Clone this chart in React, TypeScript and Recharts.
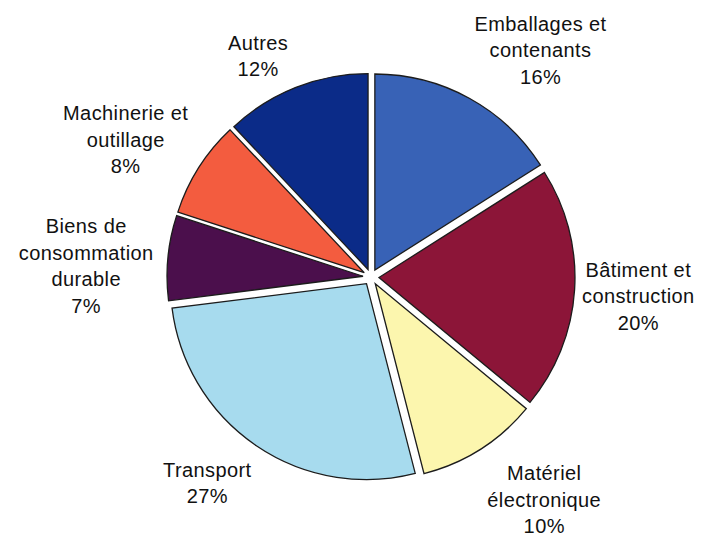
import React from 'react';
import { PieChart, Pie, Cell } from 'recharts';

// parts du marché (%), dans le sens horaire depuis midi
const CATEGORIES = [
  'Emballages et contenants',
  'Bâtiment et construction',
  'Matériel électronique',
  'Transport',
  'Biens de consommation durable',
  'Machinerie et outillage',
  'Autres',
];
const SHARES = [16, 20, 10, 27, 7, 8, 12];
const LABEL_LINES = [
  ['Emballages et', 'contenants'],
  ['Bâtiment et', 'construction'],
  ['Matériel', 'électronique'],
  ['Transport'],
  ['Biens de', 'consommation', 'durable'],
  ['Machinerie et', 'outillage'],
  ['Autres'],
];
const COLORS = ['#3862b6', '#8c1538', '#fcf6ae', '#a7dbee', '#4b0f4c', '#f35c3f', '#0b2b88'];

// label placement: radial distance and angle nudge (deg) per slice
const LABEL_DIST = [283, 268, 282, 263, 285, 281, 248];
const LABEL_SHIFT = [-8, -0.5, 5.5, -4.3, 3.2, 3.2, 5.5];

const W = 701;
const H = 537;
const CX = 371;
const CY = 277;
const R = 196;
const EXPLODE = 8;
const RAD = Math.PI / 180;
const LINE_H = 26.5;

const data = CATEGORIES.map((name, i) => ({ name, value: SHARES[i] }));
const total = SHARES.reduce((a, b) => a + b, 0);

const midAngles: number[] = [];
let acc = 0;
SHARES.forEach(v => {
  midAngles.push(90 - (360 * (acc + v / 2)) / total);
  acc += v;
});

const makeLabel = (slice: number) => (props: any) => {
  const { index, midAngle, value } = props;
  if (index !== slice) return null;
  const a = (midAngle + LABEL_SHIFT[slice]) * RAD;
  const x = CX + LABEL_DIST[slice] * Math.cos(a);
  const y = CY - LABEL_DIST[slice] * Math.sin(a);
  const lines = [...LABEL_LINES[slice], `${value}%`];
  const y0 = y - ((lines.length - 1) * LINE_H) / 2 + 7;
  return (
    <text
      key={`lbl-${slice}`}
      x={x}
      y={y0}
      textAnchor="middle"
      fill="#111"
      fontSize={20}
      letterSpacing={0.4}
      fontFamily="'Liberation Sans', Arial, sans-serif"
    >
      {lines.map((t, k) => (
        <tspan key={k} x={x} y={y0 + k * LINE_H}>
          {t}
        </tspan>
      ))}
    </text>
  );
};

export default function App() {
  return (
    <div style={{ position: 'absolute', left: 0, top: 0, width: W, height: H, background: '#fff' }}>
      <PieChart width={W} height={H} margin={{ top: 0, right: 0, bottom: 0, left: 0 }}>
        {SHARES.map((_, i) => (
          <Pie
            key={i}
            data={data}
            dataKey="value"
            nameKey="name"
            cx={CX + EXPLODE * Math.cos(midAngles[i] * RAD)}
            cy={CY - EXPLODE * Math.sin(midAngles[i] * RAD)}
            innerRadius={0}
            outerRadius={R}
            startAngle={90}
            endAngle={-270}
            label={makeLabel(i)}
            labelLine={false}
            isAnimationActive={false}
          >
            {data.map((d, j) => (
              <Cell
                key={d.name}
                fill={j === i ? COLORS[j] : 'none'}
                stroke={j === i ? '#1c1c1c' : 'none'}
                strokeWidth={1.3}
              />
            ))}
          </Pie>
        ))}
      </PieChart>
    </div>
  );
}
